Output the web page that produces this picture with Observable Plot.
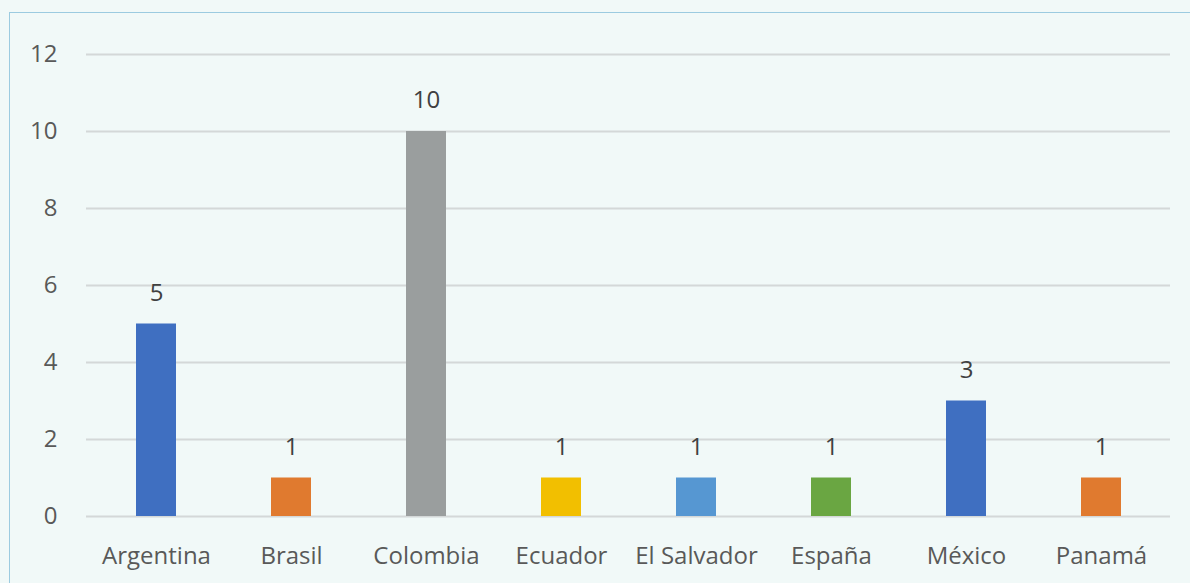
<!DOCTYPE html>
<html><head><meta charset="utf-8">
<script src="https://cdn.jsdelivr.net/npm/d3@7"></script>
<script src="https://cdn.jsdelivr.net/npm/@observablehq/plot@0.6"></script>
<style>
body{margin:0;background:#f1f9f8;overflow:hidden;}
#frame{position:absolute;left:9px;top:12px;width:1200px;height:600px;border:1px solid #9ccbe0;box-sizing:border-box;}
#chart{position:absolute;left:0;top:0;}
</style></head>
<body>
<div id="frame"></div>
<div id="chart"></div>
<script>
const countries = ["Argentina","Brasil","Colombia","Ecuador","El Salvador","España","México","Panamá"];
const counts = [5,1,10,1,1,1,3,1];
const barColors = ["#3f6fc1","#e07a2f","#9a9e9e","#f2bf00","#5697d2","#6aa642","#3f6fc1","#e07a2f"];
const yTicks = [0,2,4,6,8,10,12];

const data = countries.map((c,i)=>({country:c, value:counts[i], color:barColors[i]}));

const chart = Plot.plot({
  width:1190, height:583,
  marginLeft:86, marginRight:20, marginTop:54, marginBottom:67,
  style:{background:"transparent", fontFamily:"'Open Sans', sans-serif", fontSize:"20px", color:"#595959"},
  x:{domain:countries, paddingInner:0.705, paddingOuter:0.3525, label:null},
  y:{domain:[0,12], label:null},
  marks:[
    Plot.gridY(yTicks,{stroke:"#d4d8d8", strokeOpacity:1, strokeWidth:2}),
    Plot.barY(data,{x:"country", y:"value", fill:"color"}),
    Plot.text(data,{x:"country", y:"value", text:d=>String(d.value), dy:-31, fill:"#404040", fontSize:24}),
    Plot.axisX({tickSize:0, tickPadding:30, fontSize:24, fill:"#595959"}),
    Plot.axisY(yTicks,{tickSize:0, tickPadding:29, fontSize:24, fill:"#595959", tickFormat:d=>d})
  ]
});
document.getElementById("chart").appendChild(chart);
</script>
</body></html>
